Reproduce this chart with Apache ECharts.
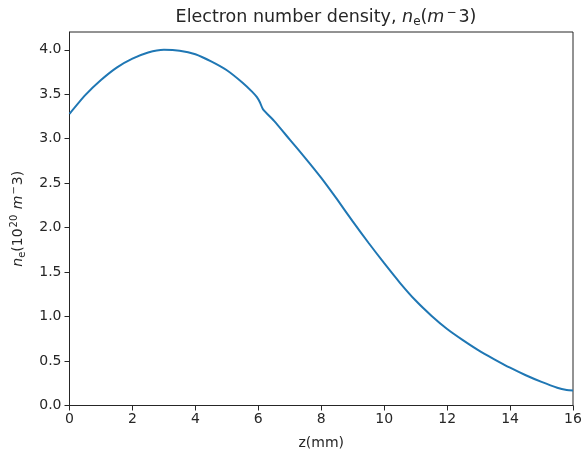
<!DOCTYPE html>
<html>
<head>
<meta charset="utf-8">
<script src="https://cdn.jsdelivr.net/npm/echarts@6/dist/echarts.min.js"></script>
<style>html,body{margin:0;padding:0;background:#fff;}#c{width:585px;height:452px;}</style>
</head>
<body>
<div id="c"></div>
<script>
var zValues = [0, 0.5, 1, 1.5, 2, 2.5, 3, 3.5, 4, 4.5, 5, 5.5, 5.8, 5.95, 6.05, 6.15, 6.5, 7, 7.5, 8, 8.5, 9, 9.5, 10, 10.5, 11, 11.5, 12, 12.5, 13, 13.5, 14, 14.5, 15, 15.5, 15.8, 16];
var neValues = [3.28, 3.49, 3.66, 3.80, 3.90, 3.97, 4.00, 3.99, 3.95, 3.87, 3.77, 3.63, 3.53, 3.47, 3.41, 3.33, 3.20, 2.99, 2.78, 2.56, 2.32, 2.07, 1.83, 1.60, 1.38, 1.18, 1.01, 0.86, 0.735, 0.62, 0.52, 0.425, 0.34, 0.265, 0.20, 0.175, 0.17];
var xTicks = [0, 2, 4, 6, 8, 10, 12, 14, 16];
var yTicks = [0, 0.5, 1.0, 1.5, 2.0, 2.5, 3.0, 3.5, 4.0];

var pts = zValues.map(function (z, i) { return [z, neValues[i]]; });
var font = 'DejaVu Sans';
var col = '#262626';
var chart = echarts.init(document.getElementById('c'));
chart.setOption({
  animation: false,
  backgroundColor: '#fff',
  title: {
    text: 'Electron number density, {i|n}{sub|e}({i|m}{sup|−}3)',
    left: 321, top: 2, textAlign: 'center',
    textStyle: {
      fontFamily: font, fontSize: 17.5, fontWeight: 'normal', color: col,
      rich: {
        i: { fontFamily: font, fontSize: 17.5, fontStyle: 'italic', color: col },
        sub: { fontFamily: font, fontSize: 12, color: col, verticalAlign: 'bottom', padding: [9, 0, 0, 0] },
        sup: { fontFamily: font, fontSize: 12, color: col, verticalAlign: 'top', padding: [0, 2, 9, 2] }
      }
    }
  },
  grid: { left: 69.5, right: 12, top: 32, bottom: 46.5, outerBoundsMode: 'none', containLabel: false, show: true, borderColor: col, borderWidth: 1, backgroundColor: 'transparent' },
  xAxis: {
    type: 'value', min: 0, max: 16, interval: 2,
    name: 'z(mm)', nameLocation: 'middle', nameGap: 31,
    nameTextStyle: { fontFamily: font, fontSize: 14, color: col },
    axisLine: { lineStyle: { color: col, width: 1 } },
    axisTick: { show: true, length: 5, lineStyle: { color: col } },
    axisLabel: { fontFamily: font, fontSize: 14, color: col, margin: 7,
      formatter: function (v) { return xTicks.indexOf(v) >= 0 ? String(v) : ''; } },
    splitLine: { show: false }
  },
  yAxis: {
    type: 'value', min: 0, max: 4.2, interval: 0.5,
    name: '{i|n}{sub|e}(10{sup|20} {i|m}{sup|−}3)', nameLocation: 'middle', nameGap: 42, nameRotate: 90,
    nameTextStyle: { fontFamily: font, fontSize: 14, color: col,
      rich: {
        i: { fontFamily: font, fontSize: 14, fontStyle: 'italic', color: col },
        sub: { fontFamily: font, fontSize: 10, color: col, verticalAlign: 'bottom', padding: [8, 0, 0, 0] },
        sup: { fontFamily: font, fontSize: 10, color: col, verticalAlign: 'top', padding: [0, 1, 8, 1] }
      } },
    axisLine: { lineStyle: { color: col, width: 1 } },
    axisTick: { show: true, length: 5, lineStyle: { color: col } },
    axisLabel: { fontFamily: font, fontSize: 14, color: col, margin: 8, showMaxLabel: false,
      formatter: function (v) {
        for (var k = 0; k < yTicks.length; k++) { if (Math.abs(yTicks[k] - v) < 1e-9) return yTicks[k].toFixed(1); }
        return '';
      } },
    splitLine: { show: false }
  },
  series: [{
    type: 'line', data: pts, showSymbol: false, smooth: 0.2,
    lineStyle: { color: '#1f77b4', width: 2 }, clip: true
  }]
});
</script>
</body>
</html>
